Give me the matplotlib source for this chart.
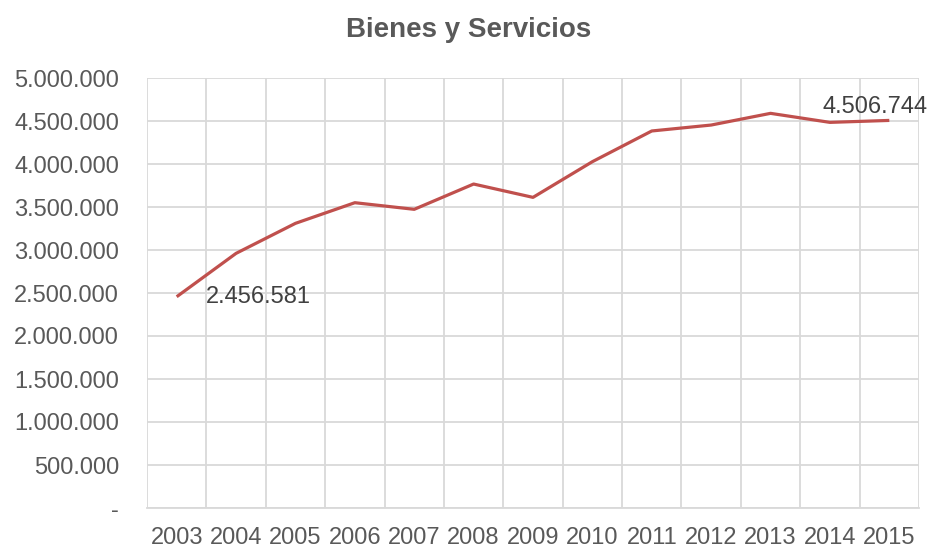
import numpy as np
import matplotlib.pyplot as plt
from matplotlib.ticker import FuncFormatter

plt.rcParams['font.family'] = ['Liberation Sans', 'DejaVu Sans']

years = ["2003", "2004", "2005", "2006", "2007", "2008", "2009",
         "2010", "2011", "2012", "2013", "2014", "2015"]
values = [2456581, 2961000, 3310000, 3550000, 3473000, 3767000, 3612000,
          4027000, 4384000, 4453000, 4589000, 4484000, 4506744]
y_ticks = [0, 500000, 1000000, 1500000, 2000000, 2500000,
           3000000, 3500000, 4000000, 4500000, 5000000]


def miles(v, pos=None):
    if v == 0:
        return "-"
    return f"{int(round(v)):,}".replace(",", ".")


fig = plt.figure(figsize=(9.3, 5.47), dpi=100)
ax = fig.add_axes([147 / 930, 1 - 508 / 547, 772 / 930, 430 / 547])

x = np.arange(len(years))
ax.plot(x, values, color="#C0504D", lw=2.3, solid_capstyle="butt", zorder=3)

ax.set_xlim(-0.5, len(years) - 0.5)
ax.set_ylim(0, 5000000)
ax.set_yticks(y_ticks)
ax.yaxis.set_major_formatter(FuncFormatter(miles))
ax.set_xticks(x)
ax.set_xticklabels(years)
ax.set_xticks(np.arange(-0.5, len(years)), minor=True)

ax.grid(True, axis="y", which="major", color="#D9D9D9", lw=1.3)
ax.grid(True, axis="x", which="minor", color="#D9D9D9", lw=1.3)
ax.set_axisbelow(True)
for s in ["top", "right", "left"]:
    ax.spines[s].set_visible(False)
ax.spines["bottom"].set_color("#D9D9D9")
ax.spines["bottom"].set_linewidth(1.3)

ax.tick_params(axis="both", which="both", length=0, labelsize=17, colors="#595959")
ax.tick_params(axis="y", pad=20)
ax.tick_params(axis="x", pad=13.5)

ax.annotate(miles(values[0]), (x[0], values[0]), xytext=(29, 0),
            textcoords="offset pixels", ha="left", va="center",
            fontsize=17, color="#404040")
ax.annotate(miles(values[-1]), (x[-1], values[-1]), xytext=(-14, 13),
            textcoords="offset pixels", ha="center", va="center",
            fontsize=17, color="#404040", annotation_clip=False)

fig.text(469 / 930, 1 - 37 / 547, "Bienes y Servicios", ha="center", va="baseline",
         fontsize=20, fontweight="bold", color="#595959")

fig.savefig("out.png", dpi=100)
